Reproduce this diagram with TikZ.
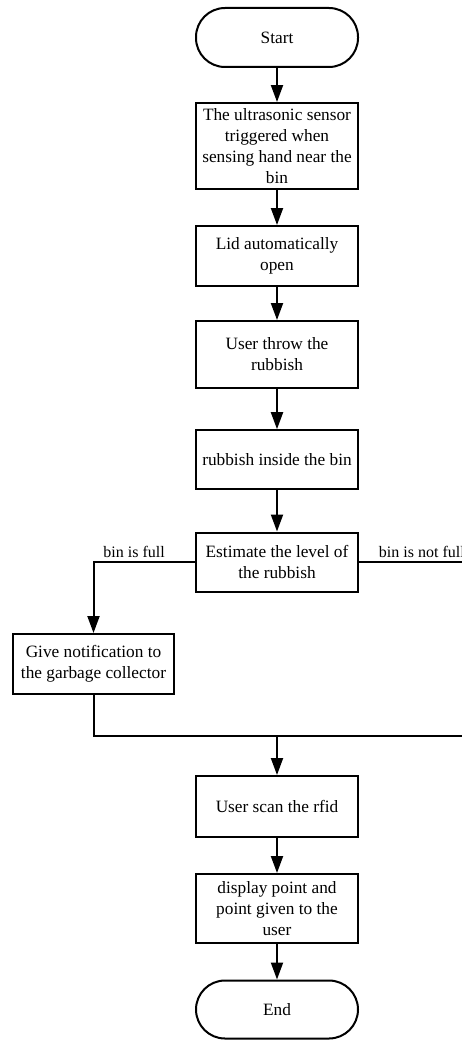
\documentclass[tikz,border=0pt]{standalone}
\usepackage{fontspec}
\setmainfont{Liberation Serif}
\usetikzlibrary{arrows.meta}
\tikzset{
  procbox/.style={draw, line width=2pt, minimum width=162pt, align=center, inner sep=3pt,
    font=\fontsize{17.3}{21}\selectfont},
  termbox/.style={procbox, rounded corners=29pt},
  flow/.style={line width=2pt, -{Triangle[length=17pt,width=12pt]}},
  wire/.style={line width=2pt},
  branch/.style={font=\fontsize{16}{19}\selectfont, inner sep=3pt}
}
\begin{document}
\begin{tikzpicture}[x=1pt,y=-1pt, line join=miter]
				\useasboundingbox (0,0) rectangle (462,1041);
				%\draw[thin,gray!40] (0,0) grid[step=50] (462,1041);
				\node[termbox, minimum height=59pt] (start) at (277,37.5) {Start};
				\node[procbox, minimum height=86pt] (sensor) at (277,146) {The ultrasonic sensor\\triggered when\\sensing hand near the\\bin};
				\node[procbox, minimum height=60pt] (lid) at (277,256) {Lid automatically\\open};
				\node[procbox, minimum height=67pt] (throw) at (277,354.5) {User throw the\\rubbish};
				\node[procbox, minimum height=59pt] (inside) at (277,459.7) {rubbish inside the bin};
				\node[procbox, minimum height=59pt] (estimate) at (277,562) {Estimate the level of\\the rubbish};
				\node[procbox, minimum height=60pt, minimum width=161pt] (notify) at (93.5,664) {Give notification to\\the garbage collector};
				\node[procbox, minimum height=61pt] (scan) at (277,806.5) {User scan the rfid};
				\node[procbox, minimum height=69pt] (display) at (277,908.5) {display point and\\point given to the\\user};
				\node[termbox, minimum height=58pt] (finish) at (277,1009.5) {End};
				\coordinate (notfull) at (462,562);
				\coordinate (join) at (277,736);
				\coordinate (joinright) at (462,736);
				\draw[flow] (start) -- (sensor);
				\draw[flow] (sensor) -- (lid);
				\draw[flow] (lid) -- (throw);
				\draw[flow] (throw) -- (inside);
				\draw[flow] (inside) -- (estimate);
				\draw[flow] (estimate.west) -| node[branch, pos=0.3, above] (full) {bin is full} (notify.north);
				\draw[wire] (estimate.east) -- node[branch, pos=0.155, above right] (notfulltext) {bin is not full} (notfull);
				\draw[wire] (notify.south) |- (joinright);
				\draw[flow] (join) -- (scan);
				\draw[flow] (scan) -- (display);
				\draw[flow] (display) -- (finish);
\end{tikzpicture}
\end{document}
